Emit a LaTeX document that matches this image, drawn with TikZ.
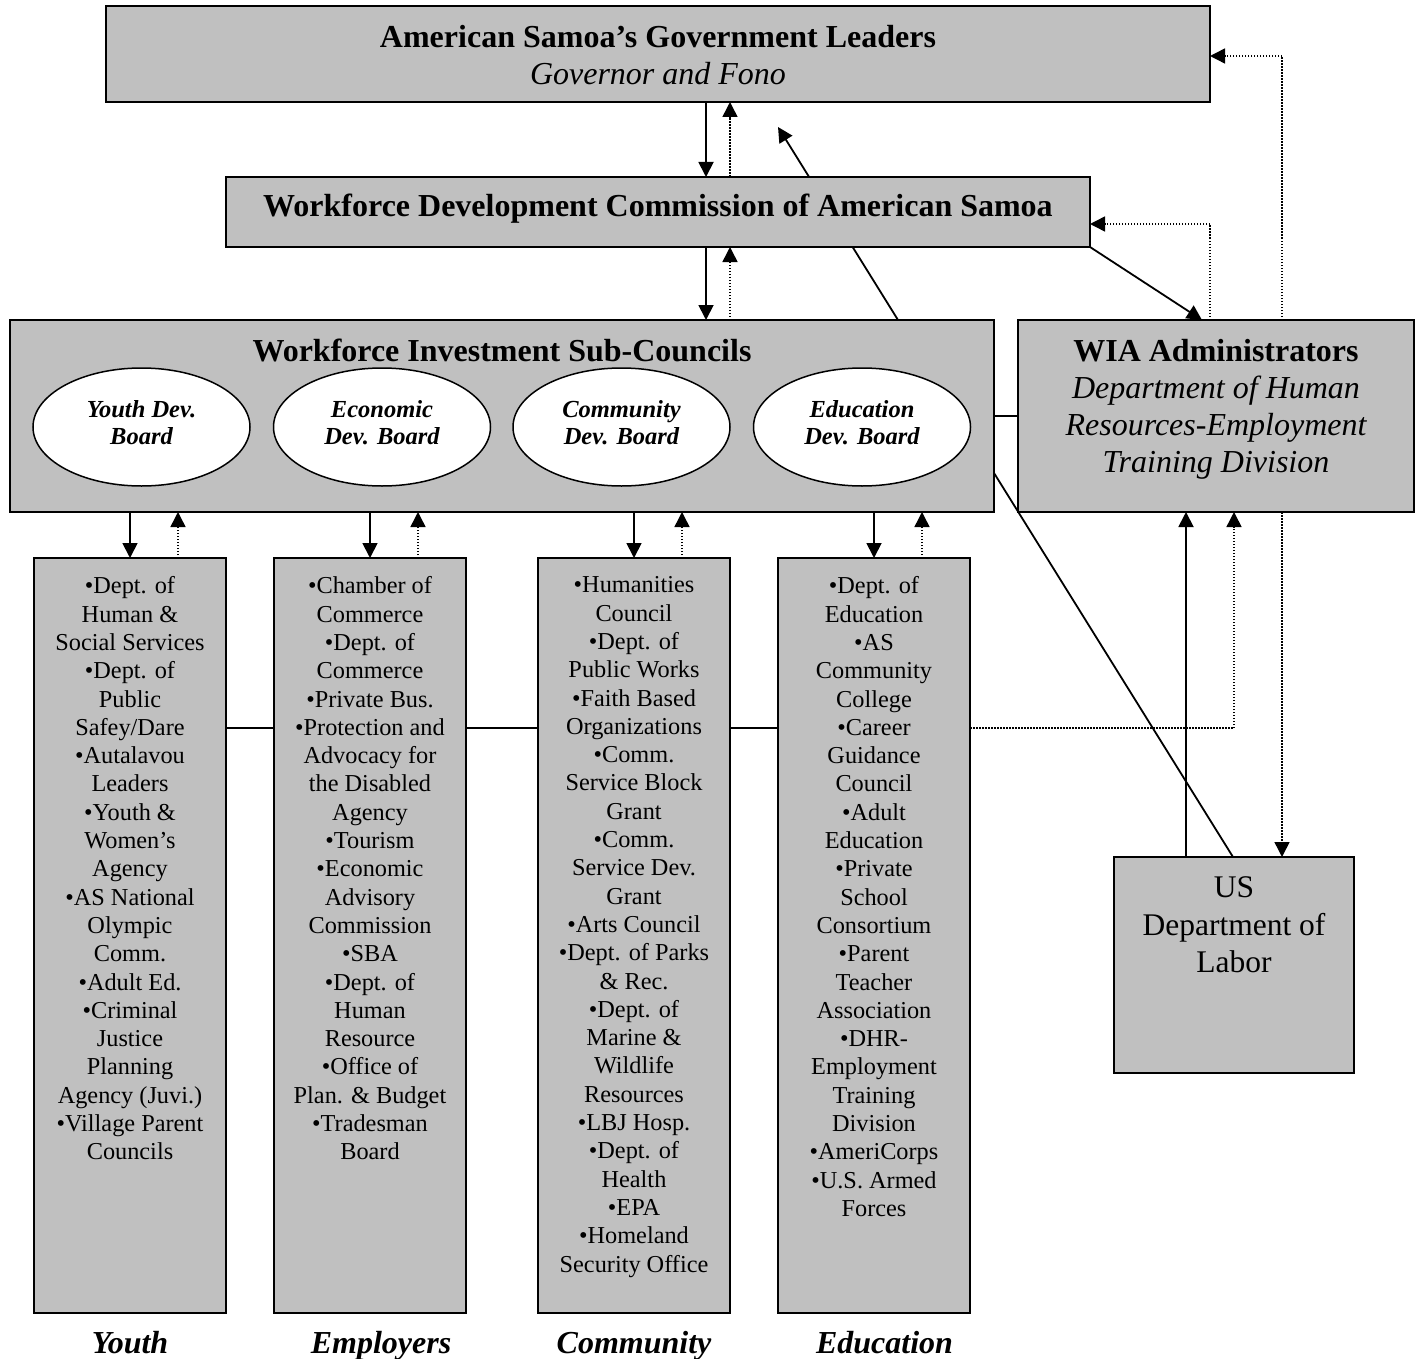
\documentclass[tikz,border=0pt]{standalone}
\usepackage{fontspec}
\setmainfont{Liberation Serif}
\usetikzlibrary{arrows.meta,shapes.geometric,backgrounds,calc}
\definecolor{boxgray}{HTML}{C0C0C0}
\begin{document}
\begin{tikzpicture}[x=1pt,y=-1pt,
  box/.style={draw, fill=boxgray, line width=1.8pt, inner sep=0pt, outer sep=0pt},
  oval/.style={draw, fill=white, ellipse, line width=1.5pt, minimum width=217pt, minimum height=118pt, inner sep=0pt, outer sep=0pt},
  bigtxt/.style={font=\fontsize{32}{36.7}\selectfont, align=center, inner sep=0pt},
  listtxt/.style={font=\fontsize{24.3}{28.3}\selectfont, align=center, inner sep=0pt, anchor=north},
  ovtxt/.style={font=\fontsize{24.5}{27}\selectfont\bfseries\itshape, align=center, inner sep=0pt, anchor=north},
  sol/.style={line width=1.8pt, -{Triangle[length=15pt,width=15pt]}},
  dotarr/.style={line width=1.5pt, dash pattern=on 1.5pt off 1.5pt, -{Triangle[length=15pt,width=15pt]}},
  link/.style={line width=1.8pt}
]
\useasboundingbox (0,0) rectangle (1421,1359);

% main boxes
\node[box, minimum width=1104pt, minimum height=96pt] (gov) at (658,54) {};
\node[bigtxt, anchor=north] (govt) at (658,25) {\bfseries American Samoa’s Government Leaders\\{\mdseries\itshape Governor and Fono}};

\node[box, minimum width=864pt, minimum height=70pt] (wdc) at (658,212) {};
\node[bigtxt, anchor=base, font=\fontsize{32}{36.7}\selectfont\bfseries] (wdct) at (658,217) {Workforce Development Commission of American Samoa};

\node[box, minimum width=984pt, minimum height=192pt] (wisc) at (502,416) {};
\node[bigtxt, anchor=base, font=\fontsize{32}{36.7}\selectfont\bfseries] (wisct) at (502,361.5) {Workforce Investment Sub-Councils};

\node[oval] (o1) at (141.5,427) {};
\node[oval] (o2) at (382,427) {};
\node[oval] (o3) at (621.5,427) {};
\node[oval] (o4) at (862,427) {};
\node[ovtxt] (o1t) at (o1 |- 0,400) {Youth Dev.\\Board};
\node[ovtxt] (o2t) at (o2 |- 0,400) {Economic\\Dev. Board};
\node[ovtxt] (o3t) at (o3 |- 0,400) {Community\\Dev. Board};
\node[ovtxt] (o4t) at (o4 |- 0,400) {Education\\Dev. Board};

\node[box, minimum width=396pt, minimum height=192pt] (wia) at (1216,416) {};
\node[bigtxt, anchor=north] (wiat) at (1216,339.5) {\bfseries WIA Administrators\\{\mdseries\itshape Department of Human}\\{\mdseries\itshape Resources-Employment}\\{\mdseries\itshape Training Division}};

\node[box, minimum width=240pt, minimum height=216pt] (dol) at (1234,965) {};
\node[bigtxt, anchor=north, font=\fontsize{31.5}{37.5}\selectfont] (dolt) at (1234,876.5) {US\\Department of\\Labor};

% columns
\node[box, minimum width=192pt, minimum height=755pt] (c1) at (130,935.5) {};
\node[box, minimum width=192pt, minimum height=755pt] (c2) at (370,935.5) {};
\node[box, minimum width=192pt, minimum height=755pt] (c3) at (634,935.5) {};
\node[box, minimum width=192pt, minimum height=755pt] (c4) at (874,935.5) {};

\node[listtxt] (c1t) at (130,576.5) {•Dept. of\\Human \&\\Social Services\\•Dept. of\\Public\\Safey/Dare\\•Autalavou\\Leaders\\•Youth \&\\Women’s\\Agency\\•AS National\\Olympic\\Comm.\\•Adult Ed.\\•Criminal\\Justice\\Planning\\Agency (Juvi.)\\•Village Parent\\Councils};
\node[listtxt] (c2t) at (370,576.5) {•Chamber of\\Commerce\\•Dept. of\\Commerce\\•Private Bus.\\•Protection and\\Advocacy for\\the Disabled\\Agency\\•Tourism\\•Economic\\Advisory\\Commission\\•SBA\\•Dept. of\\Human\\Resource\\•Office of\\Plan. \& Budget\\•Tradesman\\Board};
\node[listtxt] (c3t) at (634,576.5) {•Humanities\\Council\\•Dept. of\\Public Works\\•Faith Based\\Organizations\\•Comm.\\Service Block\\Grant\\•Comm.\\Service Dev.\\Grant\\•Arts Council\\•Dept. of Parks\\\& Rec.\\•Dept. of\\Marine \&\\Wildlife\\Resources\\•LBJ Hosp.\\•Dept. of\\Health\\•EPA\\•Homeland\\Security Office};
\node[listtxt] (c4t) at (874,576.5) {•Dept. of\\Education\\•AS\\Community\\College\\•Career\\Guidance\\Council\\•Adult\\Education\\•Private\\School\\Consortium\\•Parent\\Teacher\\Association\\•DHR-\\Employment\\Training\\Division\\•AmeriCorps\\•U.S. Armed\\Forces};

% bottom labels
\node[bigtxt, anchor=base, font=\fontsize{32}{36.7}\selectfont\bfseries\itshape] (l1) at (130,1353) {Youth};
\node[bigtxt, anchor=base, font=\fontsize{32}{36.7}\selectfont\bfseries\itshape] (l2) at (381,1353) {Employers};
\node[bigtxt, anchor=base, font=\fontsize{32}{36.7}\selectfont\bfseries\itshape] (l3) at (634,1353) {Community};
\node[bigtxt, anchor=base, font=\fontsize{32}{36.7}\selectfont\bfseries\itshape] (l4) at (884.5,1353) {Education};

\coordinate (tipA) at (778,127);

% line passing behind the commission box
\begin{pgfonlayer}{background}
\draw[sol] ([xshift=396pt]wisc.north) -- (tipA);
\end{pgfonlayer}

% vertical links between top boxes
\draw[sol] ([xshift=48pt]gov.south) -- ([xshift=48pt]wdc.north);
\draw[dotarr] ([xshift=72pt]wdc.north) -- ([xshift=72pt]gov.south);
\draw[sol] ([xshift=48pt]wdc.south) -- ([xshift=204pt]wisc.north);
\draw[dotarr] ([xshift=228pt]wisc.north) -- ([xshift=72pt]wdc.south);

% links with WIA
\draw[sol] (wdc.south east) -- ([xshift=-14pt]wia.north);
\draw[dotarr] ([xshift=-6pt]wia.north) |- ([yshift=-12pt]wdc.east);
\draw[dotarr] ([xshift=66pt]wia.north) |- ([yshift=-2pt]gov.east);
\draw[link] (wisc.east) -- (wia.west);

% links with US DOL
\draw[link] ([yshift=-57pt]wisc.east) -- ([xshift=-1pt]dol.north);
\draw[sol] ([xshift=-48pt]dol.north) -- ([xshift=-30pt]wia.south);
\draw[dotarr] ([yshift=207.5pt]c4.east) -| ([xshift=18pt]wia.south);
\draw[dotarr] ([xshift=66pt]wia.south) -- ([xshift=48pt]dol.north);

% sub-councils to columns
\foreach \c in {c1,c2,c3,c4}{
  \draw[sol] (wisc.south -| \c.north) -- (\c.north);
  \draw[dotarr] ($(\c.north)+(48,0)$) -- ($(wisc.south -| \c.north)+(48,0)$);
}

% horizontal links between columns
\draw[link] ([yshift=207.5pt]c1.east) -- ([yshift=207.5pt]c2.west);
\draw[link] ([yshift=207.5pt]c2.east) -- ([yshift=207.5pt]c3.west);
\draw[link] ([yshift=207.5pt]c3.east) -- ([yshift=207.5pt]c4.west);
\end{tikzpicture}
\end{document}
